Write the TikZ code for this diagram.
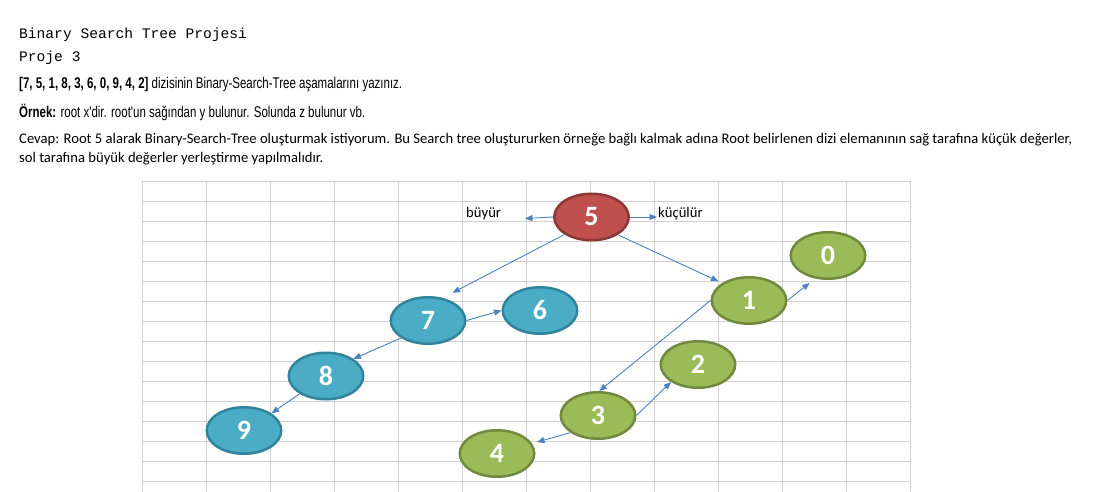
\documentclass[tikz,border=0pt]{standalone}
\usepackage{fontspec}
\usepackage{graphicx}
\usetikzlibrary{shapes.geometric,arrows.meta}
\newfontfamily\monof{Liberation Mono}
\newfontfamily\narrowf[FakeStretch=0.75]{Liberation Sans}
\newfontfamily\calf{Carlito}
\definecolor{redfill}{HTML}{C0504D}
\definecolor{redline}{HTML}{8C3836}
\definecolor{bluefill}{HTML}{4BACC6}
\definecolor{blueline}{HTML}{31849B}
\definecolor{greenfill}{HTML}{9BBB59}
\definecolor{greenline}{HTML}{71893F}
\definecolor{arrowc}{HTML}{4F81BD}
\definecolor{gridc}{HTML}{D0D0D0}
\tikzset{
  gridline/.style={draw=gridc, line width=1.2pt},
  bnode/.style={ellipse, minimum width=74.5pt, minimum height=46.5pt, inner sep=0pt, line width=2.5pt,
     font=\calf\bfseries\fontsize{28}{28}\selectfont, text=white},
  rednode/.style={bnode, fill=redfill, draw=redline},
  bluenode/.style={bnode, fill=bluefill, draw=blueline},
  greennode/.style={bnode, fill=greenfill, draw=greenline},
  conn/.style={draw=arrowc, line width=0.9pt, -{Triangle[length=7.5pt,width=6pt]}},
  txt/.style={inner sep=0pt, anchor=base west},
}
\begin{document}
\begin{tikzpicture}[x=1pt,y=-1pt]
\path[fill=white] (0,0) rectangle (1096,492);
\useasboundingbox (0,0) rectangle (1096,492);
% texts
\node[txt, font=\monof\fontsize{14.6}{16}\selectfont] (t1) at (19,39) {Binary Search Tree Projesi};
\node[txt, font=\monof\fontsize{14.6}{16}\selectfont] (t2) at (19,62) {Proje 3};
\node[txt, font=\narrowf\fontsize{15.5}{17}\selectfont] (t3) at (19,89)
  {\resizebox{383pt}{\height}{\bfseries [7, 5, 1, 8, 3, 6, 0, 9, 4, 2]\mdseries{} dizisinin Binary-Search-Tree aşamalarını yazınız.}};
\node[txt, font=\narrowf\fontsize{15.5}{17}\selectfont] (t4) at (19,118)
  {\resizebox{346pt}{\height}{\bfseries Örnek:\mdseries{} root x'dir. root'un sağından y bulunur. Solunda z bulunur vb.}};
\node[txt, font=\calf\fontsize{14.67}{16}\selectfont] (t5) at (19,144)
  {\resizebox{1053pt}{\height}{Cevap: Root 5 alarak Binary-Search-Tree oluşturmak istiyorum. Bu Search tree oluştururken örneğe bağlı kalmak adına Root belirlenen dizi elemanının sağ tarafına küçük değerler,}};
\node[txt, font=\calf\fontsize{14.67}{16}\selectfont] (t6) at (19,163)
  {\resizebox{304pt}{\height}{sol tarafına büyük değerler yerleştirme yapılmalıdır.}};
% grid
\foreach \i in {0,...,12} \draw[gridline] (142.5+64*\i,181.5) -- (142.5+64*\i,492);
\foreach \j in {0,...,15} \draw[gridline] (142.5,181.5+20*\j) -- (910.5,181.5+20*\j);
% nodes
\node[rednode] (n5) at (591.5,217) {\raisebox{-2.5pt}{5}};
\node[greennode] (n0) at (828,255.5) {\raisebox{-2.5pt}{0}};
\node[greennode] (n1) at (749,300.5) {\raisebox{-2.5pt}{1}};
\node[bluenode] (n6) at (540,310.5) {\raisebox{-2.5pt}{6}};
\node[bluenode] (n7) at (428,320.5) {\raisebox{-2.5pt}{7}};
\node[bluenode] (n8) at (326,376) {\raisebox{-2.5pt}{8}};
\node[bluenode] (n9) at (244,430.5) {\raisebox{-2.5pt}{9}};
\node[greennode] (n2) at (698,364.5) {\raisebox{-2.5pt}{2}};
\node[greennode] (n3) at (598,415.5) {\raisebox{-2.5pt}{3}};
\node[greennode] (n4) at (497,453.5) {\raisebox{-2.5pt}{4}};
% labels
\node[txt, font=\calf\fontsize{14.67}{16}\selectfont] (lb) at (466,218) {büyür};
\node[txt, font=\calf\fontsize{14.67}{16}\selectfont] (lk) at (658,218) {küçülür};
\coordinate (bl) at (525,218.5);
\coordinate (kr) at (657,217);
% connectors
\draw[conn] (n5.west) -- (bl);
\draw[conn] (n5.east) -- (kr);
\draw[conn, shorten >=11pt] (n5.213.7) -- (n7.57);
\draw[conn, shorten >=4pt] (n5.326.3) -- (n1.147.8);
\draw[conn, shorten >=7pt] (n1.east) -- (n0.241.5);
\draw[conn] (n1.west) -- (n3.87);
\draw[conn] (n3.east) -- (n2.213);
\draw[conn, shorten >=5pt] (n3.212) -- (n4.16);
\draw[conn] (n7.east) -- (n6.west);
\draw[conn] (n7.213) -- (n8.32);
\draw[conn] (n8.214) -- (n9.32);
\end{tikzpicture}
\end{document}
